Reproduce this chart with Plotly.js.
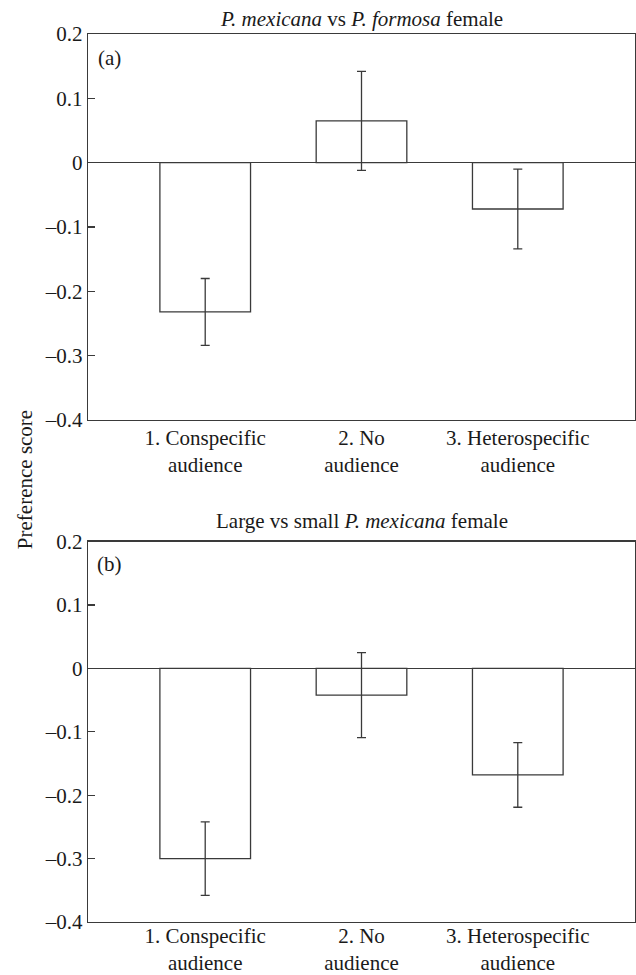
<!DOCTYPE html>
<html>
<head>
<meta charset="utf-8">
<script src="https://cdn.plot.ly/plotly-3.0.1.min.js"></script>
<style>
  html, body { margin: 0; padding: 0; background: #fff; }
  #chart { width: 636px; height: 975px; }
</style>
</head>
<body>
<div id="chart"></div>
<script>
// ---- Data ----
const categories = ["1. Conspecific<br>audience", "2. No<br>audience", "3. Heterospecific<br>audience"];

// (a) P. mexicana vs P. formosa female
const prefA = [-0.232, 0.065, -0.072];
const errA  = [0.052, 0.077, 0.062];

// (b) Large vs small P. mexicana female
const prefB = [-0.300, -0.042, -0.168];
const errB  = [0.058, 0.067, 0.051];

const yTickVals  = [-0.4, -0.3, -0.2, -0.1, 0, 0.1, 0.2];
const yTickTexts = ["–0.4", "–0.3", "–0.2", "–0.1", "0", "0.1", "0.2"];

const panelTitles = ["<i>P. mexicana</i> vs <i>P. formosa</i> female",
                     "Large vs small <i>P. mexicana</i> female"];
const panelLetters = ["(a)", "(b)"];
const yTitle = "Preference score";

// ---- Styling ----
const LINE = '#3a3a3a';
const FAMILY = 'Liberation Serif';
const FONT = {family: FAMILY, size: 21, color: '#1a1a1a'};
const TICKFONT = {family: FAMILY, size: 21, color: '#1a1a1a'};

function barTrace(vals, errs, xa, ya) {
  return {
    type: 'bar',
    x: categories,
    y: vals,
    xaxis: xa, yaxis: ya,
    marker: {color: '#ffffff', line: {color: LINE, width: 1.3}},
    error_y: {type: 'data', array: errs, visible: true, color: LINE, thickness: 1.3, width: 4.5},
    hoverinfo: 'skip',
    showlegend: false
  };
}

const data = [
  barTrace(prefA, errA, 'x', 'y'),
  barTrace(prefB, errB, 'x2', 'y2')
];

function xAxis(anchor, standoff) {
  return {
    anchor: anchor,
    domain: [0, 1],
    type: 'category',
    range: [-0.75, 2.75],
    showline: true, mirror: true, linecolor: LINE, linewidth: 1.3,
    ticks: '', showgrid: false, zeroline: false,
    tickfont: TICKFONT,
    ticklabelstandoff: standoff,
    fixedrange: true
  };
}
function yAxis(anchor, domain) {
  return {
    anchor: anchor,
    domain: domain,
    range: [-0.4, 0.2],
    tickvals: yTickVals, ticktext: yTickTexts,
    ticks: 'inside', ticklen: 7, tickcolor: LINE, tickwidth: 1.3,
    showline: true, mirror: true, linecolor: LINE, linewidth: 1.3,
    showgrid: false,
    zeroline: true, zerolinecolor: LINE, zerolinewidth: 1.3,
    tickfont: TICKFONT,
    fixedrange: true
  };
}

const layout = {
  width: 636, height: 975,
  margin: {l: 88, r: 1, t: 34, b: 53},
  paper_bgcolor: '#ffffff', plot_bgcolor: '#ffffff',
  font: FONT,
  bargap: 0.42,
  xaxis: xAxis('y', -2),
  yaxis: yAxis('x', [0.5653, 1]),
  xaxis2: xAxis('y2', -6),
  yaxis2: yAxis('x2', [0, 0.4283]),
  annotations: [
    {text: panelTitles[0], xref: 'paper', yref: 'paper', x: 0.5, y: 1.017, xanchor: 'center', yanchor: 'middle', showarrow: false, font: FONT},
    {text: panelTitles[1], xref: 'paper', yref: 'paper', x: 0.5, y: 0.4516, xanchor: 'center', yanchor: 'middle', showarrow: false, font: FONT},
    {text: panelLetters[0], xref: 'paper', yref: 'paper', x: 0.04, y: 0.973, xanchor: 'center', yanchor: 'middle', showarrow: false, font: FONT},
    {text: panelLetters[1], xref: 'paper', yref: 'paper', x: 0.04, y: 0.403, xanchor: 'center', yanchor: 'middle', showarrow: false, font: FONT},
    {text: yTitle, xref: 'paper', yref: 'paper', x: -0.115, y: 0.4977, xanchor: 'center', yanchor: 'middle', textangle: -90, showarrow: false, font: FONT}
  ]
};

Plotly.newPlot('chart', data, layout, {displayModeBar: false, staticPlot: true});
</script>
</body>
</html>
